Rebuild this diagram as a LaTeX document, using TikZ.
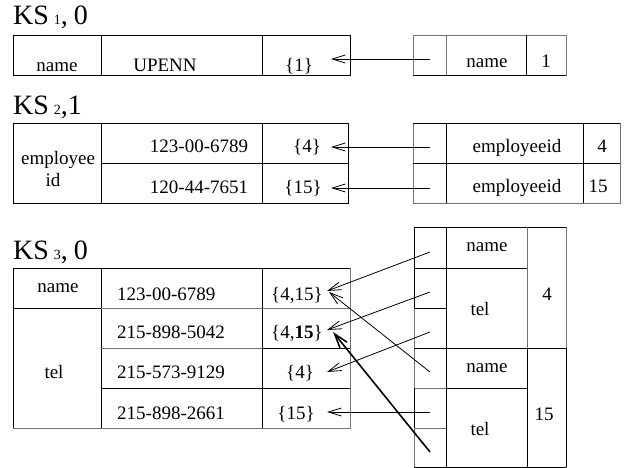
\documentclass[tikz,border=0pt]{standalone}
\usepackage{fontspec}
\setmainfont{Liberation Serif}
\usetikzlibrary{arrows.meta}
\tikzset{
  bl/.style={draw=black,line width=0.9pt},
  gr/.style={draw=black!55,line width=0.9pt},
  txt/.style={anchor=base,inner sep=0pt,font=\fontsize{19}{22}\selectfont},
  ttl/.style={anchor=base west,inner sep=0pt},
  ptr/.style={line width=0.8pt,-{Straight Barb[length=13pt,width=8pt]}},
  bptr/.style={line width=1.6pt,-{Straight Barb[length=14pt,width=9pt]}}
}
\newcommand{\bigks}[3]{{\fontsize{28}{28}\selectfont KS}\hspace{5pt}{\fontsize{14}{14}\selectfont #1}{\fontsize{28}{28}\selectfont ,#2#3}}
\begin{document}
\begin{tikzpicture}[x=1pt,y=-1pt]
\useasboundingbox (0,0) rectangle (630,468);
% ---------- KS1 ----------
\node[ttl] (t1) at (13,25) {\bigks{1}{\hspace{6pt}}{0}};
\draw[bl] (13,35) rectangle (350,75);
\draw[bl] (101,35) -- (101,75);
\draw[bl] (262,35) -- (262,75);
\node[txt] (a1) at (57,72) {name};
\node[txt] (a2) at (165,72) {UPENN};
\node[txt] (a3) at (299,72) {\{1\}};
\draw[gr] (413,35) rectangle (566,75);
\draw[gr] (446,35) -- (446,75);
\draw[bl] (526,35) -- (526,75);
\draw[bl] (413,75) -- (566,75);
\node[txt] (b1) at (487,68) {name};
\node[txt] (b2) at (546,68) {1};
\coordinate (p1s) at (430,59);
\coordinate (p1e) at (331,59);
\draw[ptr] (p1s) -- (p1e);
% ---------- KS2 ----------
\node[ttl] (t2) at (13,115) {\bigks{2}{}{1}};
\draw[bl] (13,123) rectangle (348,203);
\draw[bl] (101,123) -- (101,203);
\draw[bl] (262,123) -- (262,203);
\draw[bl] (101,163) -- (348,163);
\node[txt] (c0) at (58,165) {employee};
\node[txt] (c0b) at (53,187) {id};
\node[txt] (c1) at (199,153) {123-00-6789};
\node[txt] (c2) at (307,153) {\{4\}};
\node[txt] (c3) at (199,194) {120-44-7651};
\node[txt] (c4) at (303,194) {\{15\}};
\draw[gr] (413,123) rectangle (620,203);
\draw[bl] (413,123) -- (620,123);
\draw[bl] (446,123) -- (446,203);
\draw[bl] (583,123) -- (583,203);
\draw[bl] (413,163) -- (620,163);
\node[txt] (d1) at (517,153) {employeeid};
\node[txt] (d2) at (602,153) {4};
\node[txt] (d3) at (517,193) {employeeid};
\node[txt] (d4) at (598,193) {15};
\coordinate (p2s) at (430,147);
\coordinate (p2e) at (331,147);
\coordinate (p3s) at (430,188);
\coordinate (p3e) at (331,188);
\draw[ptr] (p2s) -- (p2e);
\draw[ptr] (p3s) -- (p3e);
% ---------- KS3 ----------
\node[ttl] (t3) at (13,260) {\bigks{3}{\hspace{6pt}}{0}};
\draw[gr] (13,268) rectangle (350,428);
\draw[bl] (13,268) -- (350,268);
\draw[bl] (13,268) -- (13,428);
\draw[bl] (101,268) -- (101,428);
\draw[bl] (262,268) -- (262,428);
\draw[bl] (13,308) -- (101,308);
\draw[gr] (101,308) -- (350,308);
\draw[gr] (101,348) -- (262,348);
\draw[bl] (262,348) -- (350,348);
\draw[bl] (101,388) -- (350,388);
\node[txt] (e1) at (58,292) {name};
\node[txt] (e2) at (54,378) {tel};
\node[txt,anchor=base west] (f1) at (117,301) {123-00-6789};
\node[txt,anchor=base west] (f2) at (117,338) {215-898-5042};
\node[txt,anchor=base west] (f3) at (117,378) {215-573-9129};
\node[txt,anchor=base west] (f4) at (117,419) {215-898-2661};
\node[txt,anchor=base west] (g1) at (271,301) {\{4,15\}};
\node[txt,anchor=base west] (g2) at (271,338) {\{4,\textbf{15}\}};
\node[txt] (g3) at (300,378) {\{4\}};
\node[txt] (g4) at (296,419) {\{15\}};
% right structure
\draw[gr] (414,227) rectangle (566,467);
\draw[bl] (414,227) -- (566,227);
\draw[bl] (414,227) -- (414,308);
\draw[bl] (446,227) -- (446,467);
\draw[gr] (527,227) -- (527,348);
\draw[bl] (527,348) -- (527,467);
\draw[bl] (414,268) -- (527,268);
\draw[bl] (414,308) -- (446,308);
\draw[bl] (414,348) -- (566,348);
\draw[bl] (446,388) -- (527,388);
\draw[gr] (414,388) -- (446,388);
\draw[bl] (414,388) -- (414,428);
\draw[gr] (414,428) -- (446,428);
\draw[bl] (566,348) -- (566,467);
\draw[bl] (414,467) -- (566,467);
\node[txt] (h1) at (487,252) {name};
\node[txt] (h2) at (480,315) {tel};
\node[txt] (h3) at (547,300) {4};
\node[txt] (h4) at (487,372) {name};
\node[txt] (h5) at (480,435) {tel};
\node[txt] (h6) at (544,420) {15};
% pointers
\coordinate (qa) at (430,252);
\coordinate (qb) at (430,292);
\coordinate (qc) at (430,332);
\coordinate (qe) at (430,372);
\coordinate (qd) at (430,412);
\coordinate (qf) at (430,452);
\coordinate (r1) at (327,291);
\coordinate (r1b) at (329,292);
\coordinate (r2) at (327,330);
\coordinate (r2b) at (333,332);
\coordinate (r3) at (327,372);
\coordinate (r4) at (327,412);
\draw[ptr] (qa) -- (r1);
\draw[ptr] (qb) -- (r2);
\draw[ptr] (qc) -- (r3);
\draw[ptr] (qd) -- (r4);
\draw[ptr] (qe) -- (r1b);
\draw[bptr] (qf) -- (r2b);
\end{tikzpicture}
\end{document}
